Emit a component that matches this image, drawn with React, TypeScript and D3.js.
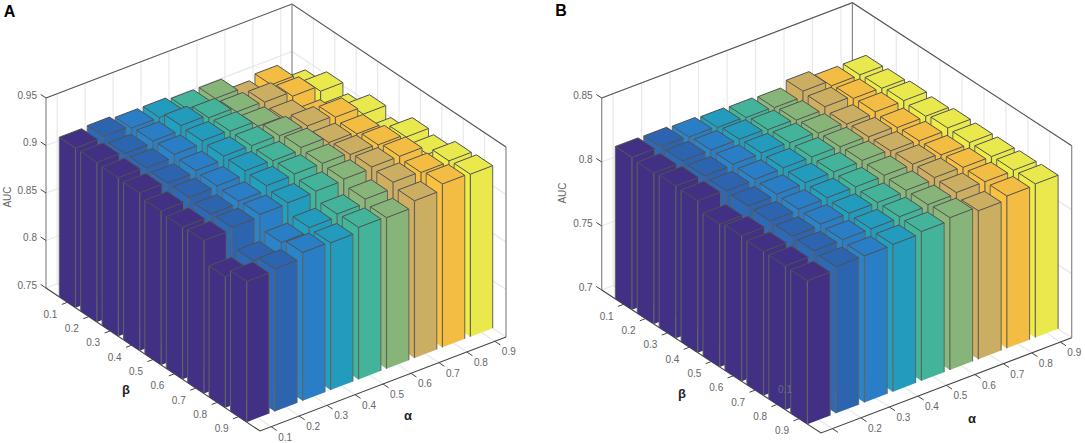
import React from 'react';
import * as d3 from 'd3';

const alphaTicks = [0.1, 0.2, 0.3, 0.4, 0.5, 0.6, 0.7, 0.8, 0.9];
const betaTicks = [0.1, 0.2, 0.3, 0.4, 0.5, 0.6, 0.7, 0.8, 0.9];

// one row per alpha, one value per beta
const aucA = [
  [0.918, 0.918, 0.917, 0.916, 0.912, 0.91, 0.911, 0.888, 0.898],
  [0.919, 0.916, 0.916, 0.915, 0.915, 0.9125, 0.9135, 0.8935, 0.9],
  [0.9165, 0.918, 0.919, 0.917, 0.916, 0.915, 0.916, 0.9015, 0.906],
  [0.9165, 0.923, 0.922, 0.921, 0.9206, 0.92, 0.917, 0.906, 0.905],
  [0.914, 0.92, 0.921, 0.9207, 0.92, 0.921, 0.918, 0.909, 0.91],
  [0.914, 0.915, 0.915, 0.92, 0.9226, 0.921, 0.9195, 0.9135, 0.909],
  [0.901, 0.914, 0.911, 0.919, 0.9166, 0.919, 0.921, 0.92, 0.9155],
  [0.906, 0.909, 0.9, 0.917, 0.9145, 0.918, 0.921, 0.919, 0.922],
  [0.89, 0.903, 0.895, 0.909, 0.9, 0.915, 0.912, 0.92, 0.921],
];

const aucB = [
  [0.819, 0.818, 0.819, 0.8186, 0.8116, 0.8136, 0.8125, 0.8125, 0.812],
  [0.8188, 0.819, 0.8184, 0.818, 0.8173, 0.8168, 0.816, 0.8157, 0.8146],
  [0.818, 0.819, 0.819, 0.8185, 0.818, 0.8175, 0.817, 0.816, 0.8145],
  [0.817, 0.819, 0.8195, 0.819, 0.8185, 0.818, 0.817, 0.816, 0.815],
  [0.8163, 0.818, 0.819, 0.819, 0.8185, 0.818, 0.817, 0.817, 0.8166],
  [0.8156, 0.817, 0.818, 0.8185, 0.819, 0.8185, 0.818, 0.818, 0.819],
  [0.82, 0.819, 0.8166, 0.8178, 0.818, 0.8188, 0.8195, 0.819, 0.8159],
  [0.8157, 0.817, 0.8177, 0.8166, 0.8174, 0.8176, 0.819, 0.819, 0.819],
  [0.8158, 0.8165, 0.818, 0.817, 0.819, 0.8188, 0.819, 0.8195, 0.82],
];

const zTicksA = [0.75, 0.8, 0.85, 0.9, 0.95];
const zTicksB = [0.7, 0.75, 0.8, 0.85];

const faceColors = ['#413083', '#2d64b0', '#2a7ec6', '#229bbd', '#43b39a', '#87b579', '#cbae62', '#f3bc43', '#e9e84d'];
const sideColors = ['#413083', '#2c69b6', '#2a84ca', '#21a0c0', '#41b79a', '#8bb878', '#d0ae5f', '#f9c13f', '#f0ec44'];

const FONT = '"Liberation Sans", Arial, sans-serif';
const line = d3.line();

interface PanelProps {
  auc: number[][];
  zTicks: number[];
  left: [number, number];
  alphaVec: [number, number];
  betaVec: [number, number];
  boxHeight: number;
  letter: string;
  letterPos: [number, number];
  aucPos: [number, number];
  betaPos: [number, number];
  alphaPos: [number, number];
  hideAlphaFirst?: boolean;
  strayLabel?: [number, number];
}

const Panel: React.FC<PanelProps> = ({
  auc, zTicks, left, alphaVec, betaVec, boxHeight, letter, letterPos, aucPos, betaPos, alphaPos, hideAlphaFirst, strayLabel,
}) => {
  const a = d3.scaleLinear().domain([0.06, 0.94]).range([0, 1]);
  const b = d3.scaleLinear().domain([0, 1]).range([0, 1]);
  const z = d3.scaleLinear().domain([zTicks[0], zTicks[zTicks.length - 1]]).range([0, boxHeight]);
  const zMin = zTicks[0];
  const zMax = zTicks[zTicks.length - 1];

  const project = (av: number, bv: number, zv: number): [number, number] => [
    left[0] + a(av) * alphaVec[0] + b(bv) * betaVec[0],
    left[1] + a(av) * alphaVec[1] + b(bv) * betaVec[1] - z(zv),
  ];
  const seg = (p: [number, number], q: [number, number]) => line([p, q]) as string;
  const poly = (pts: [number, number][]) => (line(pts) as string) + 'Z';

  const grid = '#e8e8e8';
  const aMin = 0.06, aMax = 0.94, bMin = 0, bMax = 1;

  const bars: React.ReactNode[] = [];
  for (let i = alphaTicks.length - 1; i >= 0; i--) {
    betaTicks.forEach((bt, j) => {
      const at = alphaTicks[i];
      const v = auc[i][j];
      const a0 = at - 0.04, a1 = at + 0.04, b0 = bt - 0.038, b1 = bt + 0.038;
      const leftFace = poly([project(a0, b0, zMin), project(a0, b1, zMin), project(a0, b1, v), project(a0, b0, v)]);
      const frontFace = poly([project(a0, b1, zMin), project(a1, b1, zMin), project(a1, b1, v), project(a0, b1, v)]);
      const top = poly([project(a0, b0, v), project(a0, b1, v), project(a1, b1, v), project(a1, b0, v)]);
      bars.push(
        <g key={`${i}-${j}`}>
          <path d={leftFace} fill={sideColors[i]} />
          <path d={frontFace} fill={faceColors[i]} />
          <path d={seg(project(a0, b0, zMin), project(a0, b0, v))} stroke="#626262" strokeWidth={1} />
          <path d={seg(project(a0, b1, zMin), project(a0, b1, v))} stroke="#626262" strokeWidth={1.2} />
          <path d={seg(project(a1, b1, zMin), project(a1, b1, v))} stroke="#626262" strokeWidth={1} />
          <path d={top} fill={faceColors[i]} stroke="#505050" strokeWidth={1} strokeLinejoin="round" />
        </g>,
      );
    });
  }

  return (
    <g fontFamily={FONT}>
      {/* walls and floor grid */}
      {zTicks.map((t) => (
        <path key={t} fill="none" stroke={grid} strokeWidth={1.2}
          d={line([project(aMin, bMin, t), project(aMax, bMin, t), project(aMax, bMax, t)]) as string} />
      ))}
      {alphaTicks.map((t) => (
        <path key={t} fill="none" stroke={grid} strokeWidth={1.2}
          d={line([project(t, bMax, zMin), project(t, bMin, zMin), project(t, bMin, zMax)]) as string} />
      ))}
      {betaTicks.map((t) => (
        <path key={t} fill="none" stroke={grid} strokeWidth={1.2}
          d={line([project(aMin, t, zMin), project(aMax, t, zMin), project(aMax, t, zMax)]) as string} />
      ))}

      {/* box */}
      <path d={line([project(aMin, bMin, zMax), project(aMax, bMin, zMax), project(aMax, bMax, zMax)]) as string}
        fill="none" stroke="#555" strokeWidth={1.1} />
      <path d={seg(project(aMin, bMin, zMin), project(aMin, bMin, zMax))} stroke="#888" strokeWidth={1.2} />
      <path d={seg(project(aMax, bMin, zMin), project(aMax, bMin, zMax))} stroke="#888" strokeWidth={1.2} />
      <path d={seg(project(aMax, bMax, zMin), project(aMax, bMax, zMax))} stroke="#888" strokeWidth={1.2} />

      {/* axes */}
      <path d={line([project(aMin, bMin, zMin), project(aMin, bMax, zMin), project(aMax, bMax, zMin)]) as string}
        fill="none" stroke="#444" strokeWidth={1.1} />

      {bars}

      {/* ticks */}
      {zTicks.map((t) => {
        const p = project(aMin, bMin, t);
        const q = project(aMin, -0.025, t);
        return (
          <g key={t}>
            <path d={seg(p, q)} stroke="#444" strokeWidth={1} />
            <text x={p[0] - 9} y={p[1] - 3} textAnchor="end" dominantBaseline="central" fontSize={10} fill="#666">{t}</text>
          </g>
        );
      })}
      {betaTicks.map((t) => {
        const p = project(aMin, t, zMin);
        const q = project(aMin - 0.02, t, zMin);
        return (
          <g key={t}>
            <path d={seg(p, q)} stroke="#444" strokeWidth={1} />
            <text x={p[0] - 17} y={p[1] + 12} textAnchor="middle" dominantBaseline="central" fontSize={10} fill="#666">{t}</text>
          </g>
        );
      })}
      {alphaTicks.map((t, i) => {
        const p = project(t, bMax, zMin);
        const q = project(t, bMax + 0.026, zMin);
        return (
          <g key={t}>
            <path d={seg(p, q)} stroke="#444" strokeWidth={1} />
            {hideAlphaFirst && i === 0 ? null : (
              <text x={p[0] + 14} y={p[1] + 10.5} textAnchor="middle" dominantBaseline="central" fontSize={10} fill="#666">{t}</text>
            )}
          </g>
        );
      })}
      {strayLabel && (
        <text x={strayLabel[0]} y={strayLabel[1]} textAnchor="middle" dominantBaseline="central" fontSize={10} fill="#6a6a80">0.1</text>
      )}

      {/* titles */}
      <text transform={`translate(${aucPos[0]},${aucPos[1]}) rotate(-90)`} textAnchor="middle" dominantBaseline="central" fontSize={10} fill="#666">AUC</text>
      <text x={betaPos[0]} y={betaPos[1]} textAnchor="middle" dominantBaseline="central" fontSize={13} fontWeight="bold" fill="#222">β</text>
      <text x={alphaPos[0]} y={alphaPos[1]} textAnchor="middle" dominantBaseline="central" fontSize={13} fontWeight="bold" fill="#222">α</text>
      <text x={letterPos[0]} y={letterPos[1]} textAnchor="middle" dominantBaseline="central" fontSize={16} fontWeight="bold" fill="#000">{letter}</text>
    </g>
  );
};

export default function App() {
  return (
    <svg width={1085} height={443} style={{ position: 'absolute', left: 0, top: 0, background: '#fff' }}>
      <Panel
        auc={aucA}
        zTicks={zTicksA}
        left={[46, 288]}
        alphaVec={[246, -94]}
        betaVec={[214, 143]}
        boxHeight={190}
        letter="A"
        letterPos={[9.5, 11]}
        aucPos={[7.5, 197]}
        betaPos={[126, 389]}
        alphaPos={[408, 415]}
      />
      <Panel
        auc={aucB}
        zTicks={zTicksB}
        left={[601.7, 290]}
        alphaVec={[250.7, -95.3]}
        betaVec={[219.3, 143]}
        boxHeight={192}
        letter="B"
        letterPos={[561, 10]}
        aucPos={[562, 193]}
        betaPos={[682, 393]}
        alphaPos={[972, 418]}
        hideAlphaFirst
        strayLabel={[785, 389]}
      />
    </svg>
  );
}
